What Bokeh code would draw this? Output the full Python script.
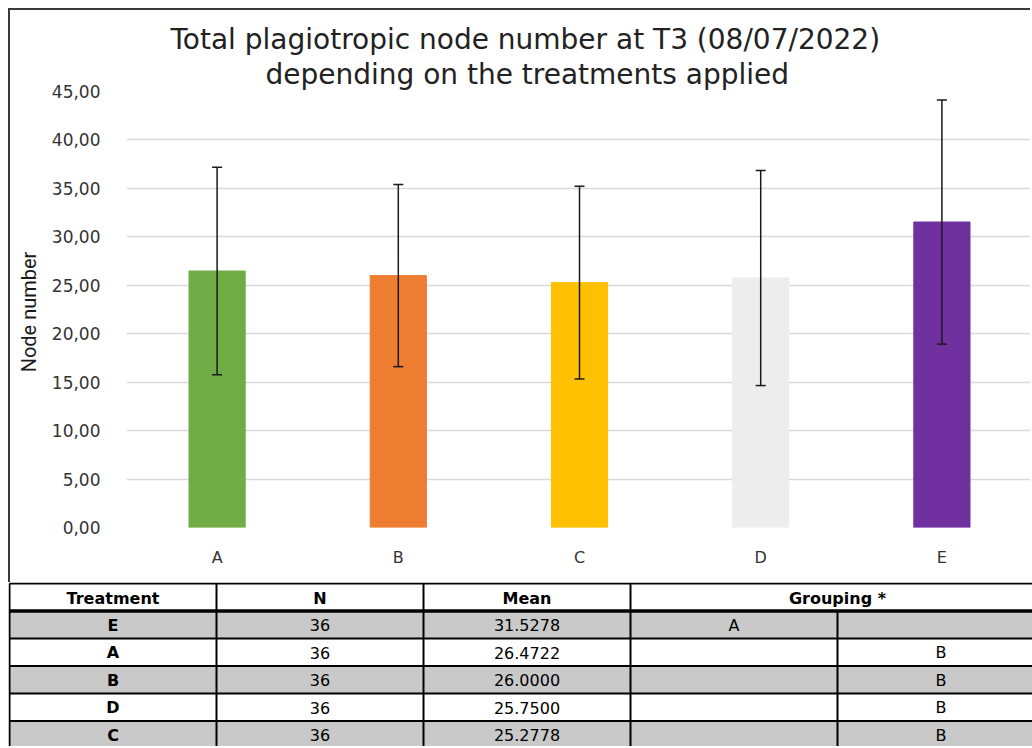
from bokeh.plotting import figure
from bokeh.models import (ColumnDataSource, Whisker, TeeHead, Range1d, Title,
                          CustomJSTickFormatter, FixedTicker)
from bokeh.embed import file_html
from bokeh.resources import INLINE
from bokeh.core.properties import value

# ---------------- data ----------------
treatments = ["A", "B", "C", "D", "E"]
means = [26.4722, 26.0000, 25.2778, 25.7500, 31.5278]
std_devs = [10.70, 9.40, 9.95, 11.10, 12.60]
bar_colors = ["#70ad47", "#ed7d31", "#ffc000", "#ededed", "#7030a0"]
y_ticks = [0, 5, 10, 15, 20, 25, 30, 35, 40, 45]

title_line1 = "Total plagiotropic node   number at T3 (08/07/2022)"
title_line2 = "depending on the treatments applied"
y_label = "Node  number"

tbl_header = ["Treatment", "N", "Mean", "Grouping *"]
tbl_treatment = ["E", "A", "B", "D", "C"]
tbl_n = [36, 36, 36, 36, 36]
tbl_mean = [31.5278, 26.4722, 26.0000, 25.7500, 25.2778]
tbl_group_1 = ["A", "", "", "", ""]
tbl_group_2 = ["", "B", "B", "B", "B"]

FONT = "DejaVu Sans"

# ---------------- chart ----------------
upper = [m + s for m, s in zip(means, std_devs)]
lower = [m - s for m, s in zip(means, std_devs)]
src = ColumnDataSource(dict(x=treatments, top=means, color=bar_colors,
                            upper=upper, lower=lower))

p = figure(x_range=treatments, y_range=Range1d(0, 45), width=1022, height=574,
           output_backend="svg", toolbar_location=None,
           min_border_left=116, min_border_right=0, min_border_top=81,
           min_border_bottom=57, outline_line_color=None)
p.styles = {"margin-left": "8px", "margin-top": "8px",
            "border-left": "2px solid #3a3a3a", "border-top": "2px solid #3a3a3a"}

p.vbar(x="x", top="top", width=0.31, color="color", source=src)
w = Whisker(source=src, base="x", upper="upper", lower="lower",
            line_color="#1a1a1a", line_width=1.5, level="overlay",
            upper_head=TeeHead(size=10, line_color="#1a1a1a", line_width=1.5),
            lower_head=TeeHead(size=10, line_color="#1a1a1a", line_width=1.5))
p.add_layout(w)

p.add_layout(Title(text=title_line2, align="left", offset=139,
                   text_font=FONT, text_font_size="28px",
                   text_font_style="normal", text_color="#222222", standoff=1), "above")
p.add_layout(Title(text=title_line1, align="left", offset=44,
                   text_font=FONT, text_font_size="28px",
                   text_font_style="normal", text_color="#222222", standoff=0), "above")

p.yaxis.ticker = FixedTicker(ticks=y_ticks)
p.yaxis.formatter = CustomJSTickFormatter(code="return tick.toFixed(2).replace('.', ',');")
p.yaxis.axis_label = y_label
p.yaxis.axis_label_text_font = "Roboto"
p.yaxis.axis_label_text_font_size = "20px"
p.yaxis.axis_label_text_font_style = "normal"
p.yaxis.axis_label_text_color = "#1a1a1a"
p.yaxis.axis_label_standoff = 8
for ax in (p.xaxis, p.yaxis):
    ax.axis_line_color = None
    ax.major_tick_line_color = None
    ax.minor_tick_line_color = None
    ax.major_label_text_font = FONT
    ax.major_label_text_color = "#333333"
p.yaxis.major_label_text_font_size = "17px"
p.xaxis.major_label_text_font_size = "16px"
p.yaxis.major_label_standoff = 20
p.xaxis.major_label_standoff = 14
p.xgrid.visible = False
p.ygrid.grid_line_color = "#d9d9d9"
p.ygrid.grid_line_width = 1.5

# ---------------- table ----------------
col_w = 207
row_h = 27.5
x0 = 1
y0 = 1
n_rows = len(tbl_treatment)
col_edges = [x0 + i * col_w for i in range(6)]
t = figure(width=1024, height=164, x_range=Range1d(0, 1024), y_range=Range1d(164, 0),
           output_backend="svg", toolbar_location=None, min_border=0,
           outline_line_color=None)
t.styles = {"margin-left": "8px"}
t.axis.visible = False
t.grid.visible = False

# row fills
fill_top = [y0 + (i + 1) * row_h for i in range(n_rows)]
fill_bottom = [y0 + (i + 2) * row_h for i in range(n_rows)]
fill_col = ["#c9c9c9" if i % 2 == 0 else "white" for i in range(n_rows)]
t.quad(left=x0, right=col_edges[-1], top=fill_top, bottom=fill_bottom,
       fill_color=fill_col, line_color=None)

# horizontal lines
hy = [y0 + k * row_h for k in range(n_rows + 2)]
hw = [2 if k != 1 else 3.5 for k in range(n_rows + 2)]
t.segment(x0=[x0] * len(hy), x1=[col_edges[-1]] * len(hy), y0=hy, y1=hy,
          line_color="black", line_width=hw)
# vertical lines
vx0, vy0, vy1 = [], [], []
for i, xe in enumerate(col_edges):
    vx0.append(xe)
    vy0.append(y0 + row_h if i == 4 else y0)
    vy1.append(y0 + (n_rows + 1) * row_h)
t.segment(x0=vx0, x1=vx0, y0=vy0, y1=vy1, line_color="black", line_width=2)

# header text
hx = [x0 + col_w * 0.5, x0 + col_w * 1.5, x0 + col_w * 2.5, x0 + col_w * 4]
t.text(x=hx, y=[y0 + row_h / 2 + 1] * 4, text=tbl_header, text_align="center",
       text_baseline="middle", text_font=value(FONT), text_font_size="16px",
       text_font_style="bold", text_color="black")

ry = [y0 + (i + 1.5) * row_h + 0.5 for i in range(n_rows)]
def col_text(ci, texts, bold=False):
    t.text(x=[x0 + col_w * (ci + 0.5)] * n_rows, y=ry, text=texts, text_align="center",
           text_baseline="middle", text_font=value(FONT),
           text_font_size="16px",
           text_font_style="bold" if bold else "normal", text_color="black")

col_text(0, tbl_treatment, bold=True)
col_text(1, [str(n) for n in tbl_n])
col_text(2, ["%.4f" % m for m in tbl_mean])
col_text(3, tbl_group_1)
col_text(4, tbl_group_2)

open("out.html", "w").write(file_html([p, t], INLINE))
